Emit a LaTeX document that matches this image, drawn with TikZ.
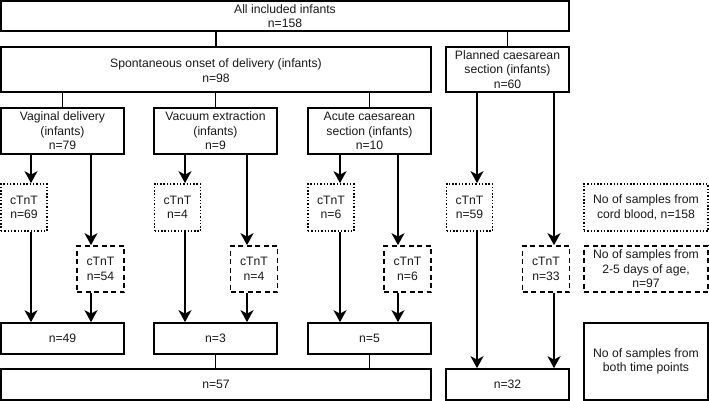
\documentclass[tikz,border=0pt]{standalone}
\usepackage{fontspec}
\setmainfont{Liberation Sans}
\usetikzlibrary{arrows.meta}
\begin{document}
\begin{tikzpicture}[x=1pt,y=-1pt,
  every node/.style={font=\fontsize{12.2}{14.6}\selectfont, align=center, inner sep=0pt, line width=1.7pt, text=black!90},
  solidbox/.style={draw},
  dotbox/.style={draw, dash pattern=on 1.4pt off 1.9pt},
  dashbox/.style={draw, dash pattern=on 5pt off 3.5pt},
  sz/.style 2 args={minimum width=#1pt, minimum height=#2pt},
  conn/.style={line width=1.7pt},
  arr/.style={conn, -{Stealth[length=12pt,width=13pt,inset=3.5pt]}}
]
\useasboundingbox (0,0) rectangle (709,401);
% top level
\node[solidbox, sz={568}{30}, font=\fontsize{12.2}{13.6}\selectfont] (all) at (285,16) {All included infants\\n=158};
\node[solidbox, sz={430}{45}] (spont) at (216,69.5) {\rule{0pt}{11pt}Spontaneous onset of delivery (infants)\\n=98};
\node[solidbox, sz={123}{45}] (plan) at (507.5,69.5) {Planned caesarean\\section (infants)\\n=60};
% second level
\node[solidbox, sz={123}{46}] (vag) at (62.5,131) {Vaginal delivery\\(infants)\\n=79};
\node[solidbox, sz={123}{46}] (vac) at (215.5,131) {Vacuum extraction\\(infants)\\n=9};
\node[solidbox, sz={123}{46}] (acu) at (369.5,131) {Acute caesarean\\section (infants)\\n=10};
% dotted cTnT
\node[dotbox, sz={46}{47}] (d1) at (24,207.5) {cTnT\\n=69};
\node[dotbox, sz={46}{47}] (d2) at (177.5,207.5) {cTnT\\n=4};
\node[dotbox, sz={46}{47}] (d3) at (331,207.5) {cTnT\\n=6};
\node[dotbox, sz={46}{47}] (d4) at (469.5,207.5) {cTnT\\n=59};
\node[dotbox, sz={124}{47}] (legd) at (646,207.5) {No of samples from\\cord blood, n=158};
% dashed cTnT
\node[dashbox, sz={47}{46}] (e1) at (100.5,269) {cTnT\\n=54};
\node[dashbox, sz={47}{46}] (e2) at (254,269) {cTnT\\n=4};
\node[dashbox, sz={47}{46}] (e3) at (407.5,269) {cTnT\\n=6};
\node[dashbox, sz={47}{46}] (e4) at (546,269) {cTnT\\n=33};
\node[dashbox, sz={124}{46}] (lege) at (646,269) {No of samples from\\2-5 days of age,\\n=97};
% both time points
\node[solidbox, sz={123}{31}] (b1) at (62.5,338.5) {n=49};
\node[solidbox, sz={123}{31}] (b2) at (215.5,338.5) {n=3};
\node[solidbox, sz={123}{31}] (b3) at (369.5,338.5) {n=5};
\node[solidbox, sz={124}{77}] (legs) at (646,361.5) {No of samples from\\both time points};
\node[solidbox, sz={430}{31}] (big) at (216,384.5) {n=57};
\node[solidbox, sz={123}{31}] (b32) at (507.5,384.5) {n=32};
% arrow columns
\coordinate (x1) at (31,0);
\coordinate (y1) at (91,0);
\coordinate (x2) at (185,0);
\coordinate (y2) at (247,0);
\coordinate (x3) at (340,0);
\coordinate (y3) at (398,0);
\coordinate (x4) at (477,0);
\coordinate (y4) at (554,0);
% plain connectors
\draw[conn] (spont.north |- all.south) -- (spont.north);
\draw[conn] (plan.north |- all.south) -- (plan.north);
\draw[conn] (vag.north |- spont.south) -- (vag.north);
\draw[conn] (vac.north |- spont.south) -- (vac.north);
\draw[conn] (acu.north |- spont.south) -- (acu.north);
\draw[conn] (b2.south) -- (b2.south |- big.north);
\draw[conn] (b3.south) -- (b3.south |- big.north);
% arrows
\draw[arr] (vag.south -| x1) -- (d1.north -| x1);
\draw[arr] (vag.south -| y1) -- (e1.north -| y1);
\draw[arr] (d1.south -| x1) -- (b1.north -| x1);
\draw[arr] (e1.south -| y1) -- (b1.north -| y1);
\draw[arr] (vac.south -| x2) -- (d2.north -| x2);
\draw[arr] (vac.south -| y2) -- (e2.north -| y2);
\draw[arr] (d2.south -| x2) -- (b2.north -| x2);
\draw[arr] (e2.south -| y2) -- (b2.north -| y2);
\draw[arr] (acu.south -| x3) -- (d3.north -| x3);
\draw[arr] (acu.south -| y3) -- (e3.north -| y3);
\draw[arr] (d3.south -| x3) -- (b3.north -| x3);
\draw[arr] (e3.south -| y3) -- (b3.north -| y3);
\draw[arr] (plan.south -| x4) -- (d4.north -| x4);
\draw[arr] (plan.south -| y4) -- (e4.north -| y4);
\draw[arr] (d4.south -| x4) -- (b32.north -| x4);
\draw[arr] (e4.south -| y4) -- (b32.north -| y4);
\end{tikzpicture}
\end{document}
